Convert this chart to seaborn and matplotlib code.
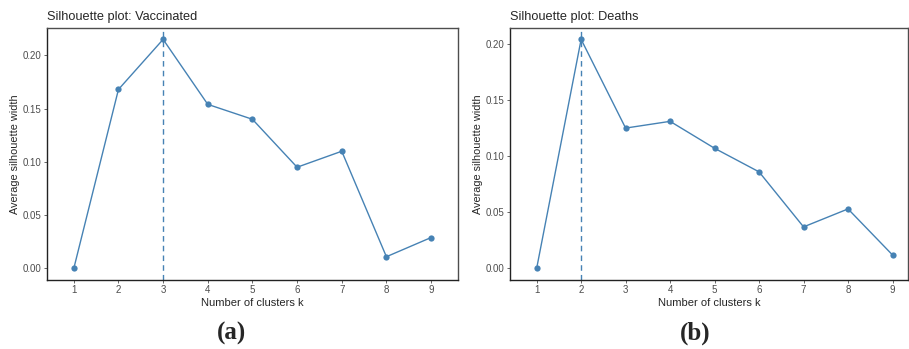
import numpy as np
import pandas as pd
import matplotlib
matplotlib.use("Agg")
import matplotlib.pyplot as plt
import seaborn as sns

# values
k_values = [1, 2, 3, 4, 5, 6, 7, 8, 9]
vaccinated_sil = [0.000, 0.168, 0.215, 0.154, 0.140, 0.095, 0.110, 0.011, 0.029]
deaths_sil = [0.000, 0.204, 0.125, 0.131, 0.107, 0.086, 0.037, 0.053, 0.012]
panel_titles = ["Silhouette plot: Vaccinated", "Silhouette plot: Deaths"]
panel_captions = ["(a)", "(b)"]
y_ticks = [0.00, 0.05, 0.10, 0.15, 0.20]

sns.set_style("white")
plt.rcParams['font.family'] = ['Liberation Sans', 'DejaVu Sans']

line_color = "#4682B4"
frame_color = "#4d4d4d"
tick_color = "#4d4d4d"

fig = plt.figure(figsize=(9.09, 3.49), dpi=100)
ax_a = fig.add_axes([0.0517, 0.198, 0.452, 0.722])
ax_b = fig.add_axes([0.561, 0.198, 0.438, 0.722])


def draw_panel(ax, ks, vals, title, xmax):
    df = pd.DataFrame({"k": ks, "sil": vals})
    best_k = df.loc[df["sil"].idxmax(), "k"]
    ax.axvline(best_k, color=line_color, linestyle=(0, (4, 3)), lw=1.0, zorder=1)
    sns.lineplot(data=df, x="k", y="sil", ax=ax, color=line_color, lw=1.0,
                 marker="o", markersize=4.5, markeredgewidth=0, zorder=3)
    ymax = max(vals)
    pad = ymax * 0.05
    ax.set_ylim(-pad, ymax + pad)
    ax.set_xlim(0.4, xmax)
    ax.set_xticks(ks)
    ax.set_yticks(y_ticks)
    ax.set_yticklabels([f"{t:.2f}" for t in y_ticks])
    ax.tick_params(axis="both", which="both", direction="out", length=2.2,
                   width=0.6, color=tick_color, labelcolor=tick_color,
                   labelsize=7, pad=1.5, bottom=True, left=True)
    for sp in ax.spines.values():
        sp.set_visible(True)
        sp.set_color(frame_color)
        sp.set_linewidth(1.0)
    ax.spines["left"].set_color("#222222")
    ax.spines["bottom"].set_color("#222222")
    ax.set_xlabel("Number of clusters k", fontsize=8, labelpad=2)
    ax.set_ylabel("Average silhouette width", fontsize=7.8, labelpad=2)
    ax.set_title(title, loc="left", fontsize=9.2, pad=6)
    ax.grid(False)


draw_panel(ax_a, k_values, vaccinated_sil, panel_titles[0], 9.6)
draw_panel(ax_b, k_values, deaths_sil, panel_titles[1], 9.35)

fig.text(232 / 909, 1 - 333 / 349, panel_captions[0], ha="center", va="center",
         fontsize=18, fontweight="bold", family="Liberation Serif")
fig.text(695 / 909, 1 - 333 / 349, panel_captions[1], ha="center", va="center",
         fontsize=18, fontweight="bold", family="Liberation Serif")

fig.savefig("out.png", dpi=100)
